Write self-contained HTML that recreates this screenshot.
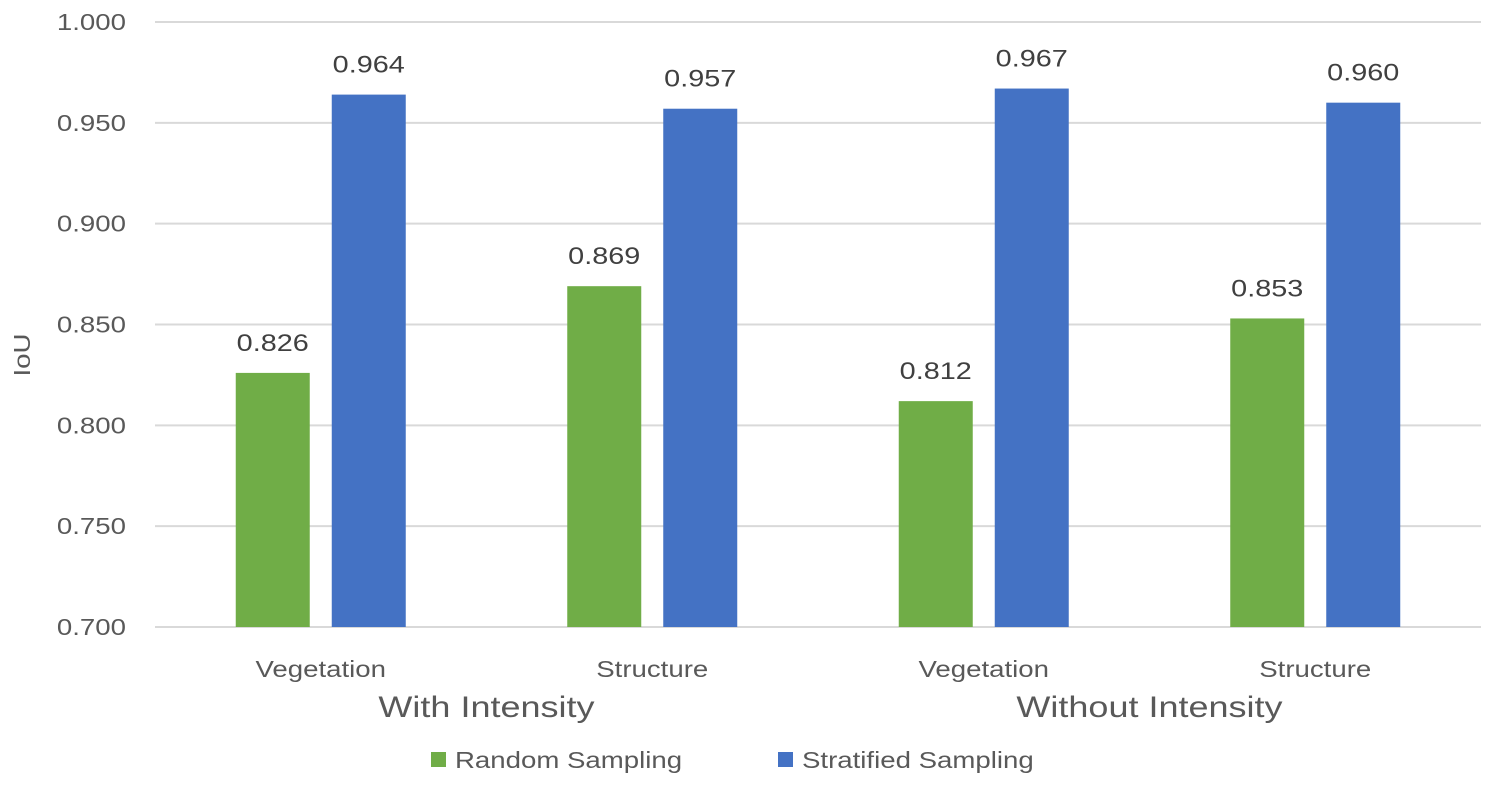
<!DOCTYPE html>
<html><head><meta charset="utf-8"><style>
html,body{margin:0;padding:0;background:#fff;}
svg text{font-family:"Liberation Sans",sans-serif;}
</style></head><body>
<svg id="chart" width="1500" height="785" xmlns="http://www.w3.org/2000/svg"></svg>
<script>
const categories = ["Vegetation","Structure","Vegetation","Structure"];
const groups = ["With Intensity","Without Intensity"];
const randomValues = [0.826,0.869,0.812,0.853];
const stratifiedValues = [0.964,0.957,0.967,0.960];
const yTicks = [0.700,0.750,0.800,0.850,0.900,0.950,1.000];
const seriesNames = ["Random Sampling","Stratified Sampling"];

const svg = document.getElementById('chart');
const NS = 'http://www.w3.org/2000/svg';
const L = 155, R = 1481, T = 22, B = 627, yMin = 0.7, yMax = 1.0;
const colors = ["#70AD47","#4472C4"];
const y = v => B - (v - yMin) / (yMax - yMin) * (B - T);
const band = (R - L) / categories.length;
const x = i => L + band * (i + 0.5);
const WIDEN = 1.2;
function mk(tag, attrs, text){
  const e = document.createElementNS(NS, tag);
  for (const k in attrs) e.setAttribute(k, attrs[k]);
  if (text !== undefined) e.textContent = text;
  svg.appendChild(e);
  if (tag === 'text') {
    const w = e.getComputedTextLength();
    if (w > 0) {
      e.setAttribute('textLength', (w * WIDEN).toFixed(1));
      e.setAttribute('lengthAdjust', 'spacingAndGlyphs');
    }
  }
  return e;
}
yTicks.forEach(t => {
  const g = mk('line',{x1:L,x2:R,y1:y(t),y2:y(t),stroke:'#d9d9d9','stroke-width':2});
  
  
  const lb = mk('text',{x:126,y:y(t)+8,'text-anchor':'end','font-size':23,fill:'#595959'},t.toFixed(3));
  
  
});
const yt = mk('text',{x:0,y:0,transform:'translate(30,355) rotate(-90)','text-anchor':'middle','font-size':23,fill:'#595959'},'IoU');


const bw = 74, gap = 22;
[randomValues, stratifiedValues].forEach((vals, s) => {
  vals.forEach((v, i) => {
    const bx = x(i) + (s === 0 ? -gap/2 - bw : gap/2);
    const r = mk('rect',{x:bx,y:y(v),width:bw,height:B-y(v),fill:colors[s]});
    
    
    const t = mk('text',{x:bx+bw/2,y:y(v)-22,'text-anchor':'middle','font-size':24,fill:'#404040'},v.toFixed(3));
    
    
  });
});
categories.forEach((c, i) => {
  const t = mk('text',{x:x(i),y:677,'text-anchor':'middle','font-size':23,fill:'#595959'},c);
  
  
});
groups.forEach((g, j) => {
  const t = mk('text',{x:(x(2*j)+x(2*j+1))/2,y:717,'text-anchor':'middle','font-size':30,fill:'#595959'},g);
  
  
});
const legX = [431, 778];
seriesNames.forEach((n, s) => {
  const r = mk('rect',{x:legX[s],y:752,width:15,height:15,fill:colors[s]});
  
  
  const t = mk('text',{x:legX[s]+24,y:768,'font-size':23,fill:'#595959'},n);
  
  
});
</script>
</body></html>
